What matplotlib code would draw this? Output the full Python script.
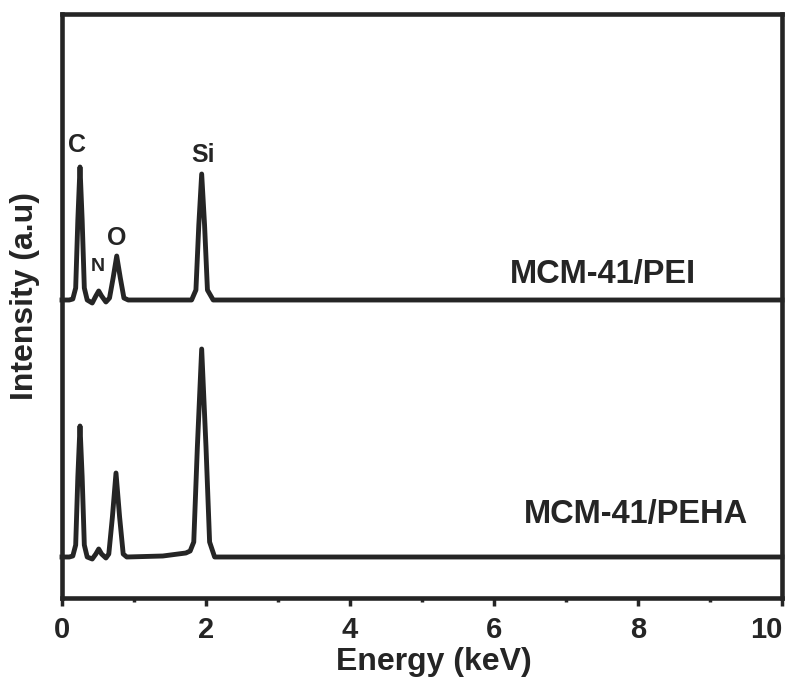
import matplotlib
matplotlib.use("Agg")
import matplotlib.pyplot as plt

# ── EDS spectra: energy (keV) and intensity (a.u., baseline = 0) ─────────────
pei_energy = [0.00, 0.10, 0.15, 0.19, 0.22, 0.25, 0.28, 0.31, 0.35,
              0.42, 0.47, 0.51, 0.55, 0.61, 0.66, 0.71, 0.76, 0.81,
              0.86, 0.92, 1.80, 1.86, 1.90, 1.94, 1.98, 2.02, 2.10, 10.00]
pei_intensity = [0.00, 0.00, 0.01, 0.12, 0.80, 1.33, 0.80, 0.12, 0.00,
                 -0.03, 0.04, 0.09, 0.04, -0.02, 0.02, 0.22, 0.44, 0.22,
                 0.02, 0.00, 0.00, 0.10, 0.75, 1.26, 0.75, 0.10, 0.00, 0.00]

peha_energy = [0.00, 0.10, 0.15, 0.19, 0.22, 0.25, 0.28, 0.31, 0.35,
               0.42, 0.47, 0.51, 0.55, 0.61, 0.65, 0.70, 0.75, 0.80,
               0.85, 0.90, 1.40, 1.72, 1.78, 1.83, 1.88, 1.94, 2.00,
               2.05, 2.12, 10.00]
peha_intensity = [0.00, 0.00, 0.01, 0.12, 0.80, 1.31, 0.80, 0.12, 0.00,
                  -0.02, 0.03, 0.08, 0.03, -0.01, 0.03, 0.40, 0.84, 0.40,
                  0.03, 0.00, 0.01, 0.04, 0.06, 0.15, 1.10, 2.08, 1.10,
                  0.15, 0.00, 0.00]

major_ticks = [0, 2, 4, 6, 8, 10]
minor_ticks = [1, 3, 5, 7, 9]

# vertical offsets used to stack the two spectra
pei_offset = 2.98
peha_offset = 0.41

ink = "#252525"
font = "Liberation Sans"

fig = plt.figure(figsize=(7.92, 6.77), dpi=100)
ax = fig.add_axes([62 / 792, 79 / 677, 720 / 792, 584 / 677])

ax.plot(pei_energy, [v + pei_offset for v in pei_intensity],
        color=ink, lw=3.5, solid_joinstyle="round", clip_on=False)
ax.plot(peha_energy, [v + peha_offset for v in peha_intensity],
        color=ink, lw=3.5, solid_joinstyle="round", clip_on=False)

ax.set_xlim(0, 10)
ax.set_ylim(0, 5.84)

# ── Axes styling ────────────────────────────────────────────────────────────
for s in ax.spines.values():
    s.set_linewidth(3.3)
    s.set_color(ink)

ax.set_xticks(major_ticks)
ax.set_xticks(minor_ticks, minor=True)
ax.set_xticklabels([str(t) for t in major_ticks], fontsize=21,
                   fontweight="bold", family=font, color=ink)
ax.tick_params(axis="x", which="major", direction="out", length=6,
               width=2.5, color=ink, pad=7)
ax.tick_params(axis="x", which="minor", direction="out", length=3,
               width=2.5, color=ink)
ax.set_yticks([])

# keep the "10" inside the figure edge
ax.xaxis.get_major_ticks()[-1].label1.set_horizontalalignment("right")

ax.set_xlabel("Energy (keV)", fontsize=23, fontweight="bold",
              family=font, color=ink)
ax.xaxis.set_label_coords(0.517, -0.084)
ax.set_ylabel("Intensity (a.u)", fontsize=23, fontweight="bold",
              family=font, color=ink)
ax.yaxis.set_label_coords(-0.030, 0.517)

# ── Element and sample labels ───────────────────────────────────────────────
peak_kw = dict(ha="center", va="center", fontweight="bold",
               family=font, color=ink)
ax.text(0.21, 4.53, "C", fontsize=18, **peak_kw)
ax.text(0.50, 3.31, "N", fontsize=14, **peak_kw)
ax.text(0.76, 3.60, "O", fontsize=18, **peak_kw)
ax.text(1.96, 4.43, "Si", fontsize=18, **peak_kw)

ax.text(7.51, 3.23, "MCM-41/PEI", fontsize=23.5, **peak_kw)
ax.text(7.97, 0.84, "MCM-41/PEHA", fontsize=23.5, **peak_kw)

fig.savefig("out.png", dpi=100)
